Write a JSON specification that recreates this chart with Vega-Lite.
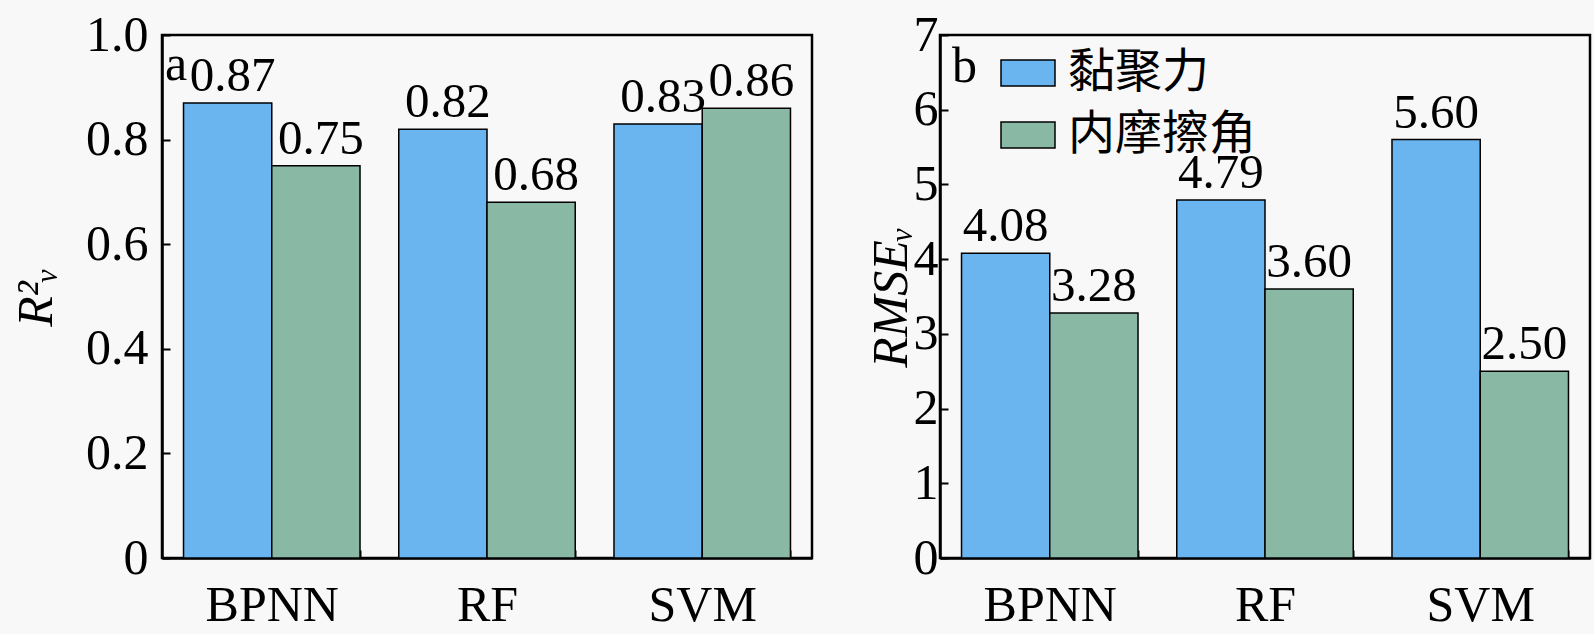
{
  "$schema": "https://vega.github.io/schema/vega-lite/v6.json",
  "background": "#f8f8f8",
  "padding": {"left": 10, "top": 8, "right": 4, "bottom": 4},
  "config": {
    "font": "Liberation Serif",
    "view": {"stroke": "black", "strokeWidth": 2.5, "fill": "#f8f8f8"},
    "axis": {
      "labelFont": "Liberation Serif", "labelFontSize": 50, "labelColor": "black",
      "titleFont": "Liberation Serif", "titleFontSize": 50, "titleColor": "black",
      "titleFontWeight": "normal", "titleFontStyle": "italic",
      "domainColor": "black", "domainWidth": 2.5,
      "tickColor": "black", "tickWidth": 2, "tickSize": -8, "grid": false
    },
    "title": {"font": "Liberation Serif", "fontSize": 50, "fontWeight": "normal", "color": "black"},
    "concat": {"spacing": 50}
  },
  "resolve": {"scale": {"color": "independent"}, "legend": {"color": "independent"}},
  "datasets": {
    "r2": [
      {"model": "BPNN", "param": "黏聚力", "value": 0.87},
      {"model": "BPNN", "param": "内摩擦角", "value": 0.75},
      {"model": "RF", "param": "黏聚力", "value": 0.82},
      {"model": "RF", "param": "内摩擦角", "value": 0.68},
      {"model": "SVM", "param": "黏聚力", "value": 0.83},
      {"model": "SVM", "param": "内摩擦角", "value": 0.86}
    ],
    "rmse": [
      {"model": "BPNN", "param": "黏聚力", "value": 4.08},
      {"model": "BPNN", "param": "内摩擦角", "value": 3.28},
      {"model": "RF", "param": "黏聚力", "value": 4.79},
      {"model": "RF", "param": "内摩擦角", "value": 3.60},
      {"model": "SVM", "param": "黏聚力", "value": 5.60},
      {"model": "SVM", "param": "内摩擦角", "value": 2.50}
    ]
  },
  "hconcat": [
    {
      "width": 650, "height": 523,
      "title": {"text": "a", "anchor": "start", "frame": "group", "orient": "top", "offset": -80, "dx": 3},
      "data": {"name": "r2"},
      "encoding": {
        "x": {"field": "model", "type": "nominal", "sort": ["BPNN", "RF", "SVM"],
              "scale": {"paddingInner": 0.18, "paddingOuter": 0.1},
              "axis": {"title": null, "labelAngle": 0, "tickBand": "extent", "labelPadding": 30}},
        "xOffset": {"field": "param", "type": "nominal", "sort": ["黏聚力", "内摩擦角"]},
        "y": {"field": "value", "type": "quantitative", "scale": {"domain": [0, 1]},
              "axis": {"title": "R²ᵥ", "values": [0, 0.2, 0.4, 0.6, 0.8, 1.0], "labelPadding": 22, "titlePadding": 24,
                       "labelExpr": "datum.value == 0 ? '0' : format(datum.value, '.1f')"}}
      },
      "layer": [
        {
          "mark": {"type": "bar", "stroke": "black", "strokeWidth": 1.5},
          "encoding": {
            "color": {"field": "param", "type": "nominal", "sort": ["黏聚力", "内摩擦角"],
                      "scale": {"range": ["#6ab4f0", "#89b8a5"]}, "legend": null}
          }
        },
        {
          "mark": {"type": "text", "baseline": "bottom", "dy": -2, "dx": 5, "fontSize": 49, "font": "Liberation Serif", "color": "black"},
          "encoding": {"text": {"field": "value", "type": "quantitative", "format": ".2f"}}
        }
      ]
    },
    {
      "width": 650, "height": 523,
      "title": {"text": "b", "anchor": "start", "frame": "group", "orient": "top", "offset": -82, "dx": 12},
      "data": {"name": "rmse"},
      "encoding": {
        "x": {"field": "model", "type": "nominal", "sort": ["BPNN", "RF", "SVM"],
              "scale": {"paddingInner": 0.18, "paddingOuter": 0.1},
              "axis": {"title": null, "labelAngle": 0, "tickBand": "extent", "labelPadding": 30}},
        "xOffset": {"field": "param", "type": "nominal", "sort": ["黏聚力", "内摩擦角"]},
        "y": {"field": "value", "type": "quantitative", "scale": {"domain": [0, 7]},
              "axis": {"title": "RMSEᵥ", "values": [0, 1, 2, 3, 4, 5, 6, 7], "labelPadding": 10, "titlePadding": -3, "format": "d"}}
      },
      "layer": [
        {
          "mark": {"type": "bar", "stroke": "black", "strokeWidth": 1.5},
          "encoding": {
            "color": {"field": "param", "type": "nominal", "sort": ["黏聚力", "内摩擦角"],
                      "scale": {"range": ["#6ab4f0", "#89b8a5"]},
                      "legend": {"title": null, "orient": "none", "legendX": 60, "legendY": 10, "padding": 0,
                                 "symbolType": "M-1,-0.48H1V0.48H-1Z", "symbolSize": 2916,
                                 "symbolStrokeColor": "black", "symbolStrokeWidth": 1.5, "symbolOpacity": 1,
                                 "labelFont": "Noto Sans CJK SC", "labelFontSize": 47, "labelColor": "black",
                                 "labelLimit": 0, "labelOffset": 12, "rowPadding": 11}}
          }
        },
        {
          "mark": {"type": "text", "baseline": "bottom", "dy": -2, "fontSize": 49, "font": "Liberation Serif", "color": "black"},
          "encoding": {"text": {"field": "value", "type": "quantitative", "format": ".2f"}}
        }
      ]
    }
  ]
}
